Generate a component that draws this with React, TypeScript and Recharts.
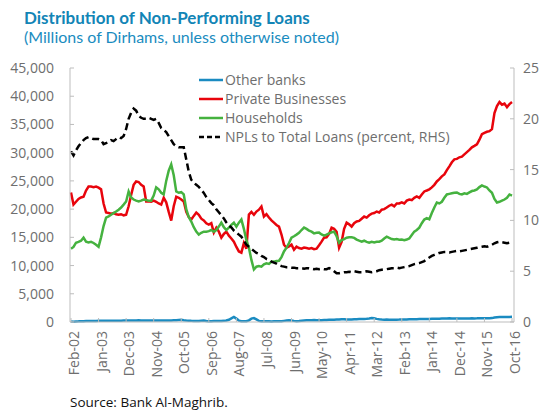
import { LineChart, Line, XAxis, YAxis, Legend } from 'recharts'

// monthly, Feb-02 .. Oct-16
const MONTH_NAMES = ['Jan', 'Feb', 'Mar', 'Apr', 'May', 'Jun', 'Jul', 'Aug', 'Sep', 'Oct', 'Nov', 'Dec']
const months: string[] = []
for (let k = 1; k <= 177; k++) {
  const yr = 2002 + Math.floor(k / 12)
  months.push(`${MONTH_NAMES[k % 12]}-${String(yr % 100).padStart(2, '0')}`)
}

const otherBanks = [
  80, 60, 100, 120, 150, 140, 160, 170, 180, 170,
  190, 200, 210, 200, 200, 210, 220, 230, 220, 230,
  240, 250, 250, 260, 270, 280, 270, 290, 280, 270,
  260, 250, 260, 270, 260, 280, 270, 260, 270, 280,
  280, 290, 300, 350, 400, 320, 260, 220, 200, 190,
  180, 190, 220, 250, 180, 150, 140, 160, 170, 160,
  170, 200, 260, 400, 650, 900, 600, 250, 130, 120,
  140, 300, 600, 700, 450, 200, 150, 140, 130, 120,
  110, 120, 130, 140, 150, 200, 250, 300, 260, 200,
  150, 180, 220, 260, 300, 320, 330, 350, 330, 320,
  330, 350, 360, 380, 400, 420, 450, 440, 480, 500,
  450, 430, 460, 480, 500, 510, 520, 540, 560, 620,
  700, 650, 550, 480, 430, 420, 440, 420, 410, 420,
  420, 430, 450, 440, 460, 480, 470, 490, 500, 520,
  510, 530, 540, 550, 570, 560, 580, 590, 610, 600,
  610, 650, 610, 600, 620, 610, 620, 640, 630, 640,
  650, 640, 650, 670, 660, 670, 680, 670, 690, 800,
  850, 880, 870, 900, 880, 900, 910,
]

const privateBusinesses = [
  22950, 20800, 21300, 21800, 22060, 22200, 23300, 24000, 24000, 23900,
  24000, 23800, 23500, 21000, 19400, 19300, 19200, 19300, 19100, 19000,
  19100, 18900, 19000, 20500, 22500, 24300, 24900, 24800, 24300, 24000,
  21350, 21400, 21300, 21500, 21300, 21000, 20800, 22000, 21200, 19500,
  17970, 20500, 22200, 22000, 21700, 21350, 19500, 18600, 18150, 18800,
  19400, 19000, 18300, 18000, 17500, 17250, 17500, 15830, 16700, 16000,
  14940, 15600, 16000, 15300, 14800, 14230, 13300, 12500, 12280, 14000,
  13000, 19030, 19500, 19000, 19570, 19900, 20460, 18680, 19100, 18500,
  18000, 17600, 17200, 16900, 15500, 13700, 13160, 13400, 13700, 12800,
  13340, 13100, 13000, 13200, 13100, 13000, 13100, 12900, 13000, 13600,
  14230, 14940, 15000, 15600, 16700, 16500, 16000, 13160, 14200, 16500,
  17600, 17300, 16900, 17500, 17800, 17900, 18300, 18680, 18500, 18900,
  19200, 19300, 19570, 19400, 19900, 20000, 20280, 20600, 20800, 20500,
  21000, 21000, 21200, 21000, 21500, 21700, 21600, 22000, 22240, 22000,
  22600, 23130, 23300, 23500, 23840, 24300, 24900, 25300, 25800, 26150,
  26900, 27580, 28300, 28820, 28900, 29180, 29300, 29710, 30100, 30500,
  30950, 31200, 31490, 32300, 33270, 33500, 33700, 33800, 34160, 37000,
  38250, 38960, 38500, 38700, 38070, 38600, 38960,
]

const households = [
  12990, 13300, 14050, 14200, 14400, 14940, 14230, 14100, 14200, 14000,
  13700, 13340, 15000, 17000, 18500, 18700, 19000, 19300, 19570, 19900,
  20280, 20800, 21350, 23130, 22060, 21700, 21500, 21350, 21500, 21700,
  21600, 21500, 21500, 22400, 23840, 23500, 22900, 22600, 25000, 26800,
  27930, 26000, 23130, 22900, 23000, 22600, 20000, 18600, 17790, 16800,
  16010, 15500, 15800, 16000, 16010, 16100, 16300, 16000, 16300, 16900,
  17610, 16800, 16300, 16700, 17200, 17600, 16900, 17600, 18150, 16500,
  14500, 13160, 11000, 9300, 9800, 9900, 9800, 10200, 10400, 10300,
  10670, 10700, 10800, 10850, 11500, 12500, 13160, 14000, 14940, 15200,
  15480, 15800, 16300, 16720, 16500, 16200, 16010, 15700, 15800, 15830,
  15500, 15300, 15480, 15700, 15900, 16000, 15200, 14050, 14500, 14700,
  14940, 15000, 15000, 14900, 14600, 14400, 14230, 14400, 14200, 14050,
  14200, 14100, 14200, 14230, 14400, 14800, 15120, 14900, 14700, 14600,
  14700, 14590, 14600, 14500, 14600, 14800, 15400, 16010, 16300, 16720,
  17500, 18150, 18400, 18200, 19300, 20280, 21170, 21000, 21300, 22000,
  22600, 22700, 22800, 22900, 22950, 22700, 22600, 22800, 22700, 22950,
  23200, 23300, 23480, 23900, 24200, 24000, 23840, 23300, 22900, 21800,
  21170, 21300, 21500, 21700, 22000, 22600, 22400,
]

// percent, right-hand scale
const nplRatio = [
  16.8, 16.4, 16.9, 17.3, 17.6, 17.9, 18.1, 18.2, 18.1, 18.0,
  18.0, 18.0, 17.9, 17.5, 17.6, 17.7, 17.9, 17.8, 18.0, 18.2,
  18.1, 18.3, 19.0, 20.0, 20.6, 21.0, 20.8, 20.3, 20.1, 20.0,
  20.0, 20.1, 20.0, 19.9, 20.0, 19.6, 19.1, 18.9, 18.7, 18.3,
  17.9, 17.5, 17.3, 17.2, 17.2, 17.2, 16.0, 14.8, 14.0, 13.7,
  13.5, 13.3, 13.0, 12.7, 12.3, 12.0, 11.7, 11.5, 11.1, 10.8,
  10.5, 10.2, 9.8, 9.5, 9.3, 9.0, 8.8, 8.6, 8.4, 8.0,
  7.6, 7.4, 7.2, 7.0, 6.8, 6.7, 6.5, 6.4, 6.2, 6.1,
  5.95, 5.85, 5.75, 5.6, 5.5, 5.45, 5.4, 5.4, 5.35, 5.35,
  5.3, 5.3, 5.3, 5.25, 5.3, 5.3, 5.25, 5.2, 5.25, 5.2,
  5.25, 5.2, 5.2, 5.3, 5.2, 5.0, 4.8, 4.8, 4.85, 4.9,
  4.9, 4.95, 4.9, 5.0, 4.95, 4.9, 4.9, 4.95, 5.0, 4.95,
  4.9, 4.95, 5.0, 5.1, 5.15, 5.2, 5.2, 5.25, 5.3, 5.3,
  5.35, 5.3, 5.35, 5.4, 5.45, 5.5, 5.6, 5.7, 5.75, 5.8,
  5.9, 6.0, 6.2, 6.35, 6.5, 6.6, 6.7, 6.8, 6.85, 6.9,
  6.9, 6.85, 6.9, 6.95, 7.0, 6.95, 7.0, 7.05, 7.1, 7.15,
  7.2, 7.25, 7.3, 7.35, 7.4, 7.45, 7.4, 7.5, 7.6, 7.75,
  7.85, 7.9, 7.85, 7.8, 7.75, 7.8, 7.8,
]

const leftTicks = [0, 5000, 10000, 15000, 20000, 25000, 30000, 35000, 40000, 45000]
const rightTicks = [0, 5, 10, 15, 20, 25]

const series = [
  { key: 'other', name: 'Other banks', color: '#1a8bc1', axis: 'left', dash: undefined },
  { key: 'private', name: 'Private Businesses', color: '#e8040c', axis: 'left', dash: undefined },
  { key: 'households', name: 'Households', color: '#45b23f', axis: 'left', dash: undefined },
  { key: 'npl', name: 'NPLs to Total Loans (percent, RHS)', color: '#000000', axis: 'right', dash: '7 4' },
]

const data = months.map((month, i) => ({
  month,
  other: otherBanks[i],
  private: privateBusinesses[i],
  households: households[i],
  npl: nplRatio[i],
}))

const GREY = '#6e6e6e'
const AXIS = '#bdbdbd'
const FONT = '"Open Sans", sans-serif'

function MonthTick({ x, y, payload }: any) {
  return (
    <text
      x={x}
      y={y}
      dy={8}
      transform={`rotate(-90, ${x}, ${y})`}
      textAnchor="end"
      fill={GREY}
      fontSize={14}
    >
      {payload.value}
    </text>
  )
}

function LegendBox() {
  return (
    <div style={{ fontFamily: FONT, fontSize: 14, color: GREY }}>
      {series.map((s) => (
        <div key={s.key} style={{ display: 'flex', alignItems: 'center', height: 19 }}>
          <svg width={24} height={4} style={{ marginRight: 2 }}>
            <line
              x1={0}
              y1={2}
              x2={24}
              y2={2}
              stroke={s.color}
              strokeWidth={2.5}
              strokeDasharray={s.dash ? '5 3' : undefined}
            />
          </svg>
          <span>{s.name}</span>
        </div>
      ))}
    </div>
  )
}

export default function App() {
  return (
    <div
      style={{
        position: 'absolute',
        left: 0,
        top: 0,
        width: 544,
        height: 412,
        background: '#fff',
        fontFamily: FONT,
      }}
    >
      <div
        style={{
          position: 'absolute',
          left: 24,
          top: 8,
          fontFamily: 'Lato, sans-serif',
          fontWeight: 700,
          fontSize: 17,
          lineHeight: '20px',
          color: '#1285b6',
          whiteSpace: 'nowrap',
        }}
      >
        Distribution of Non-Performing Loans
      </div>
      <div
        style={{
          position: 'absolute',
          left: 24,
          top: 27,
          fontFamily: 'Lato, sans-serif',
          fontSize: 16,
          lineHeight: '20px',
          color: '#1a8cc0',
          whiteSpace: 'nowrap',
        }}
      >
        (Millions of Dirhams, unless otherwise noted)
      </div>

      <LineChart
        width={544}
        height={412}
        data={data}
        margin={{ top: 68, right: 0, left: 10, bottom: 30 }}
        style={{ position: 'absolute', left: 0, top: 0 }}
      >
        <XAxis
          dataKey="month"
          interval={10}
          height={60}
          tickSize={-4}
          tickMargin={13}
          tick={<MonthTick />}
          axisLine={{ stroke: AXIS }}
          tickLine={{ stroke: AXIS }}
          padding={{ left: 1, right: 2 }}
        />
        <XAxis
          xAxisId="top"
          dataKey="month"
          orientation="top"
          height={0}
          tick={false}
          tickLine={false}
          axisLine={{ stroke: AXIS }}
        />
        <YAxis
          yAxisId="left"
          width={60}
          domain={[0, 45000]}
          ticks={leftTicks}
          tickSize={-4}
          tickMargin={20}
          tickFormatter={(v: number) => v.toLocaleString('en-US')}
          tick={{ fill: GREY, fontSize: 14 }}
          axisLine={{ stroke: AXIS }}
          tickLine={{ stroke: AXIS }}
        />
        <YAxis
          yAxisId="right"
          orientation="right"
          width={30}
          domain={[0, 25]}
          ticks={rightTicks}
          tickSize={-4}
          tickMargin={13}
          tick={{ fill: GREY, fontSize: 14 }}
          axisLine={{ stroke: AXIS }}
          tickLine={{ stroke: AXIS }}
        />
        <Legend
          layout="vertical"
          align="center"
          verticalAlign="middle"
          wrapperStyle={{ top: 70, left: 199, width: 260 }}
          content={() => <LegendBox />}
        />
        {series.map((s) => (
          <Line
            key={s.key}
            type="linear"
            dataKey={s.key}
            name={s.name}
            yAxisId={s.axis}
            stroke={s.color}
            strokeWidth={2.5}
            strokeDasharray={s.dash}
            dot={false}
            activeDot={false}
            isAnimationActive={false}
          />
        ))}
      </LineChart>

      <div
        style={{
          position: 'absolute',
          left: 70,
          top: 392,
          fontSize: 13.5,
          lineHeight: '20px',
          color: '#111',
          whiteSpace: 'nowrap',
        }}
      >
        Source: Bank Al-Maghrib.
      </div>
    </div>
  )
}
